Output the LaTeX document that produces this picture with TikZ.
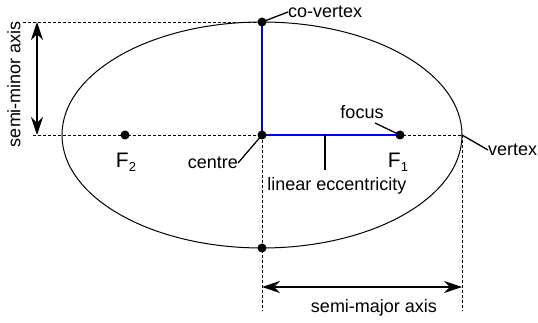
\documentclass[tikz,border=0pt]{standalone}
\usepackage{fontspec}
\setmainfont{Liberation Sans}
\usetikzlibrary{arrows.meta}
\begin{document}
\begin{tikzpicture}[x=1pt,y=-1pt,
  lbl/.style={inner sep=0pt,font=\fontsize{18}{20}\selectfont},
  flbl/.style={inner sep=0pt,font=\fontsize{21}{22}\selectfont},
  thinline/.style={line width=1pt},
  leader/.style={line width=1.3pt},
  guide/.style={line width=0.8pt,dash pattern=on 3pt off 2pt},
  semiaxis/.style={blue,line width=2pt},
  dotnode/.style={circle,fill=black,inner sep=0pt,minimum size=9pt},
  dimarrow/.style={line width=1.1pt,{Stealth[length=18pt,width=12pt,inset=6pt]}-{Stealth[length=18pt,width=12pt,inset=6pt]}}]
\useasboundingbox (0,0) rectangle (538,323);
% key points
\coordinate (C) at (262,135);
\coordinate (CV) at (262,22);
\coordinate (CVb) at (262,248);
\coordinate (V) at (462,135);
\coordinate (Fa) at (400,135);
\coordinate (Fb) at (125,135);
\coordinate (Tl) at (23,22);
\coordinate (Ml) at (33,135);
\coordinate (Cd) at (262,311);
\coordinate (Vd) at (462,311);
\coordinate (Ma) at (37,22);
\coordinate (Mb) at (37,135);
\coordinate (Ja) at (262,287);
\coordinate (Jb) at (462,287);
\coordinate (Tk) at (325,135);
\coordinate (Tke) at (325,170);
\coordinate (Lf) at (375,123);
% dashed guides
\draw[guide] (Tl) -- (CV);
\draw[guide] (Ml) -- (V);
\draw[guide] (C) -- (Cd);
\draw[guide] (V) -- (Vd);
% ellipse
\draw[thinline] (C) ellipse [x radius=200, y radius=113];
% semi axes
\draw[semiaxis] (CV) -- (C) -- (Fa);
% dimension arrows
\draw[dimarrow] (Ma) -- (Mb);
\draw[dimarrow] (Ja) -- (Jb);
% tick
\draw[leader] (Tk) -- (Tke);
% labels
\node[lbl,anchor=west] (lcv) at (288,12) {co-vertex};
\node[lbl,anchor=east] (lc) at (238,163) {centre};
\node[lbl] (lf) at (362,112) {focus};
\node[lbl,anchor=west] (lv) at (488,150) {vertex};
\node[lbl] (lle) at (337,186) {linear eccentricity};
\node[lbl] (lma) at (374,308) {semi-major axis};
\node[lbl,rotate=90] (lmi) at (14,84) {semi-minor axis};
\node[flbl] (lf2) at (126,162) {F\raisebox{-0.35ex}{\fontsize{13}{13}\selectfont 2}};
\node[flbl] (lf1) at (398,162) {F\raisebox{-0.35ex}{\fontsize{13}{13}\selectfont 1}};
% leaders
\draw[leader] (CV) -- (lcv.west);
\draw[leader] (lc.east) -- (C);
\draw[leader] (Lf) -- (Fa);
\draw[leader] (V) -- (lv.west);
% dots
\node[dotnode] (dCV) at (CV) {};
\node[dotnode] (dC) at (C) {};
\node[dotnode] (dCVb) at (CVb) {};
\node[dotnode] (dF1) at (Fa) {};
\node[dotnode] (dF2) at (Fb) {};
\end{tikzpicture}
\end{document}
